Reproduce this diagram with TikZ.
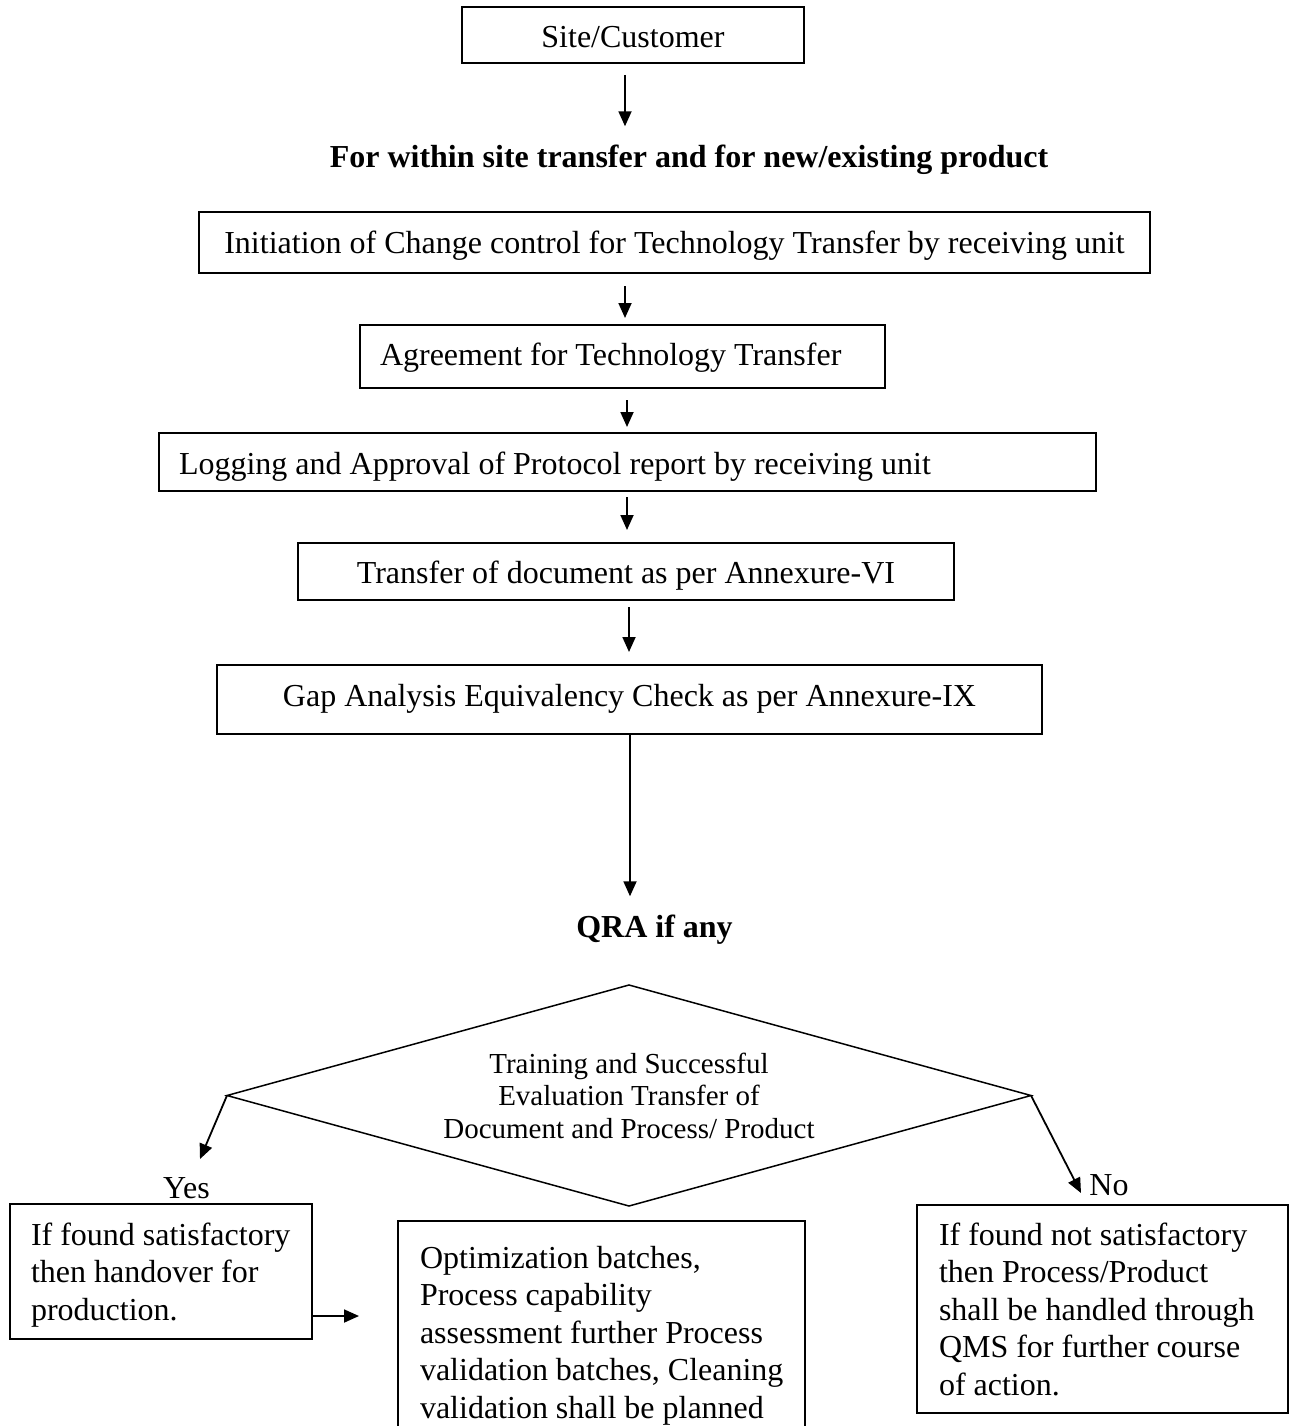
\documentclass[tikz,border=0pt]{standalone}
\usepackage{fontspec}
\setmainfont{Liberation Serif}
\usetikzlibrary{arrows.meta,shapes.geometric}
\newcommand\myind[1]{\hspace*{#1}}
\begin{document}
\begin{tikzpicture}[x=1pt,y=-1pt,
  txt/.style={font=\fontsize{32}{37.5}\selectfont},
  boxc/.style={txt, draw, line width=1.8pt, inner sep=0pt, outer sep=0pt, align=center},
  boxl/.style={txt, draw, line width=1.8pt, inner ysep=0pt, outer sep=0pt, align=flush left},
  boxm/.style={txt, draw, line width=1.8pt, inner sep=0pt, outer sep=0pt, align=flush left},
  ttl/.style={font=\fontsize{32}{37.5}\selectfont\bfseries, inner sep=0pt, anchor=base},
  lbl/.style={txt, inner sep=0pt, anchor=base},
  arr/.style={-{Triangle[length=15pt,width=13pt]}, line width=1.8pt},
  dia/.style={diamond, draw, line width=1.5pt, inner sep=0pt, outer sep=0pt, align=center,
    font=\fontsize{29}{32.5}\selectfont}
]
\useasboundingbox (0,0) rectangle (1296,1426);
\clip (0,0) rectangle (1296,1426);

% arrow x positions
\coordinate (xa) at (625,0);
\coordinate (xb) at (627,0);
\coordinate (xc) at (629,0);
\coordinate (xd) at (630,0);

\node[boxc, minimum width=342pt, minimum height=56pt, text height=24.6pt, text depth=0pt] (site) at (633,35) {Site/Customer};

\node[ttl] (t1) at (689,167) {For within site transfer and for new/existing product};

\node[boxc, minimum width=951pt, minimum height=61pt, text height=25pt, text depth=4pt] (init) at (674.5,242.5)
  {Initiation of Change control for Technology Transfer by receiving unit};

\node[boxl, minimum width=525pt, minimum height=63pt, inner xsep=20pt, text width=485pt, text height=23pt, text depth=6pt] (agree) at (622.5,356.5)
  {Agreement for Technology Transfer};

\node[boxl, minimum width=937pt, minimum height=58pt, inner xsep=20pt, text width=897pt, text height=24pt, text depth=0pt] (log) at (627.5,462)
  {Logging and Approval of Protocol report by receiving unit};

\node[boxc, minimum width=656pt, minimum height=57pt, text height=23.6pt, text depth=0pt] (doc) at (626,571.5)
  {Transfer of document as per Annexure-VI};

\node[boxc, minimum width=825pt, minimum height=69pt, text height=21pt, text depth=8pt] (gap) at (629.5,699.5)
  {Gap Analysis Equivalency Check as per Annexure-IX};

\node[ttl] (qra) at (654.5,937) {QRA if any};

\node[dia, minimum width=804pt, minimum height=221pt, aspect=3.64] (dec) at (629,1095.5)
  {Training and Successful\\Evaluation Transfer of\\Document and Process/ Product};

\node[lbl] (yes) at (186.5,1198) {Yes};
\node[lbl] (no) at (1109,1195) {No};

\node[boxm, minimum width=302pt, minimum height=135pt, text width=302pt] (left) at (161,1271.5)
  {\myind{21pt}\rule{0pt}{29pt}If found satisfactory\\\myind{21pt}then handover for\\\myind{21pt}production.};

\node[boxm, minimum width=407pt, minimum height=229pt, text width=407pt] (mid) at (601.5,1335.5)
  {\myind{22pt}Optimization batches,\\\myind{22pt}Process capability\\\myind{22pt}assessment further Process\\\myind{22pt}validation batches, Cleaning\\\myind{22pt}validation shall be planned};

\node[boxm, minimum width=371pt, minimum height=208pt, text width=371pt] (right) at (1102.5,1309)
  {\myind{22pt}If found not satisfactory\\\myind{22pt}then Process/Product\\\myind{22pt}shall be handled through\\\myind{22pt}QMS for further course\\\myind{22pt}of action.};

% connectors
\draw[arr, shorten <=12pt, shorten >=18pt] (site.south -| xa) -- (t1.north -| xa);
\draw[arr, shorten <=13pt, shorten >=7pt] (init.south -| xa) -- (agree.north -| xa);
\draw[arr, shorten <=12pt, shorten >=6pt] (agree.south -| xb) -- (log.north -| xb);
\draw[arr, shorten <=6pt, shorten >=13pt] (log.south -| xb) -- (doc.north -| xb);
\draw[arr, shorten <=7pt, shorten >=13pt] (doc.south -| xc) -- (gap.north -| xc);
\draw[arr, shorten >=18pt] (gap.south -| xd) -- (qra.north -| xd);

\coordinate (yesTip) at (200,1159);
\coordinate (noTip) at (1081,1193);
\coordinate (midTip) at (359,1316);
\draw[arr] (dec.west) -- (yesTip);
\draw[arr] (dec.east) -- (noTip);
\draw[arr] (left.east |- midTip) -- (midTip);
\end{tikzpicture}
\end{document}
